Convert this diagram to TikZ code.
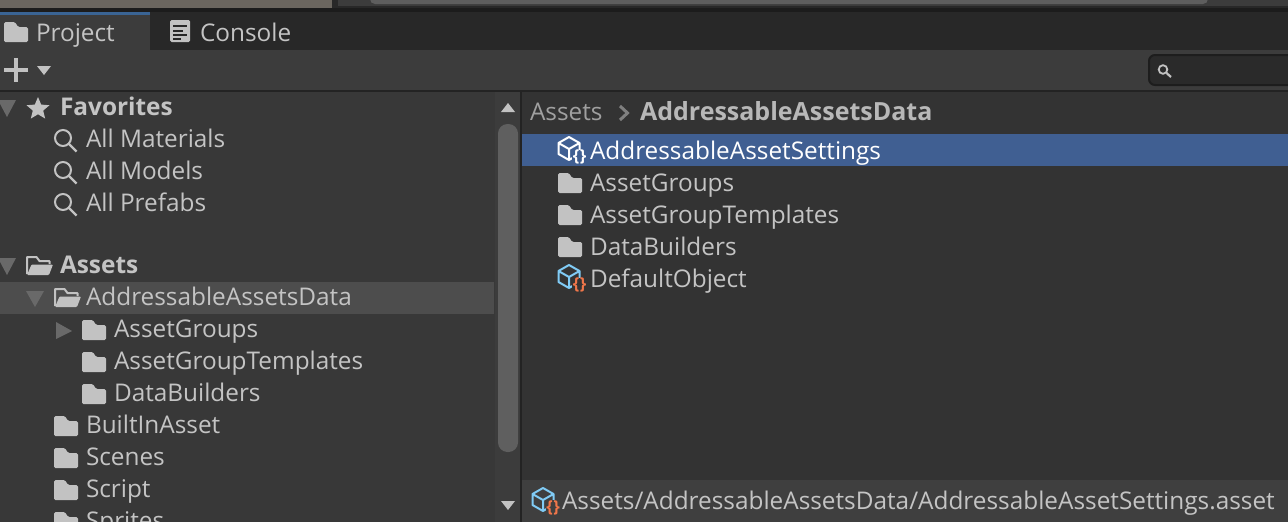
\documentclass[tikz,border=0pt]{standalone}
\usepackage{fontspec}
\setmainfont{Open Sans}
\definecolor{bgmain}{HTML}{383838}
\definecolor{bgright}{HTML}{333333}
\definecolor{bgbar}{HTML}{3C3C3C}
\definecolor{bgtabs}{HTML}{282828}
\definecolor{rule}{HTML}{232323}
\definecolor{ink}{HTML}{C4C4C4}
\definecolor{fold}{HTML}{C2C2C2}
\definecolor{tri}{HTML}{696969}
\definecolor{thumb}{HTML}{5F5F5F}
\definecolor{cubeblue}{HTML}{80CBF5}
\definecolor{brace}{HTML}{F0764A}
\definecolor{selblue}{HTML}{405F92}
\definecolor{topstrip}{HTML}{6B665F}
\definecolor{topgray}{HTML}{5E5E5E}
\definecolor{tabblue}{HTML}{3A6494}
\definecolor{rowgray}{HTML}{4D4D4D}
\definecolor{searchbg}{HTML}{2A2A2A}
\definecolor{searchedge}{HTML}{1D1D1D}
\definecolor{chev}{HTML}{808080}
\definecolor{crumb}{HTML}{A0A0A0}
\definecolor{crumbbold}{HTML}{B8B8B8}
\definecolor{pathbar}{HTML}{3F3F3F}
\tikzset{x=1pt,y=-1pt,
  lbl/.style={anchor=base west,inner sep=0pt,outer sep=0pt,text=ink,font=\fontsize{24.35}{28}\selectfont},
  boldlbl/.style={lbl,font=\fontsize{24.4}{28}\selectfont\bfseries},
  crumbboldlbl/.style={lbl,text=crumbbold,font=\fontsize{25}{28}\selectfont\bfseries},
  bracelbl/.style={anchor=center,inner sep=0pt,outer sep=0pt,font=\fontsize{16.5}{16}\selectfont\bfseries},
  foldericon/.pic={\fill[fold,rounded corners=1.5pt] (0,0) -- (11,0) -- (14,5) -- (24,5) -- (24,20) -- (0,20) -- cycle;},
  openfolder/.pic={
    \draw[fold,line width=2pt,line join=round] (1,19) -- (1,2) -- (10.5,2) -- (13.5,6) -- (23.5,6) -- (23.5,9);
    \fill[fold,rounded corners=1pt] (5.5,9.5) -- (27,9.5) -- (23,20) -- (1,20) -- cycle;},
  magnifier/.pic={\draw[fold,line width=2pt] (9,9) circle[radius=8];\draw[fold,line width=2.4pt] (14.8,14.8) -- (22.5,22.5);},
  cubeicon/.pic={
    \draw[pic actions,line width=2pt,line join=round] (11,0) -- (21.5,6) -- (21.5,17) -- (11,23) -- (0.5,17) -- (0.5,6) -- cycle
      (0.5,6) -- (11,12) -- (21.5,6) (11,12) -- (11,23);},
  scrolltri/.style={fill=fold}}
\newcommand{\braces}{\{\kern0.5pt\}}
\begin{document}
\begin{tikzpicture}
\useasboundingbox (0,0) rectangle (1288,522);
\clip (0,0) rectangle (1288,522);
% base regions
\fill[bgtabs] (0,0) rectangle (1288,50);
\fill[bgmain] (0,92) rectangle (495,522);
\fill[bgbar] (495,92) rectangle (520,522);
\fill[bgright] (522,92) rectangle (1288,522);
\fill[rule] (520,92) rectangle (522,522);
% top strip
\fill[topstrip] (0,0) rectangle (332,8);
\fill[bgbar] (338,0) rectangle (1288,6);
\fill[topgray,rounded corners=5pt] (370,-10) rectangle (1208,4);
\fill[bgtabs!70!black] (0,8) rectangle (1288,12);
% tabs and toolbar
\fill[bgbar] (0,50) rectangle (1288,90);
\fill[rule] (0,90) rectangle (1288,92);
\fill[bgbar] (0,15) rectangle (150,50);
\fill[tabblue] (0,12) rectangle (150,15);
\pic at (4,22) {foldericon};
\node[lbl] (project) at (36,41) {Project};
\fill[fold,rounded corners=1.5pt] (170,20) rectangle (190,42);
\draw[bgtabs,line width=2pt] (173,26) -- (187,26) (173,30.5) -- (183,30.5) (173,35) -- (187,35) (173,39) -- (181,39);
\node[lbl] (console) at (200,41) {Console};
\fill[fold] (14,58) rectangle (18,82);
\fill[fold] (4,68) rectangle (28,72);
\fill[fold] (37,66) -- (51,66) -- (44,75) -- cycle;
% search field
\draw[searchedge,fill=searchbg,line width=2pt,rounded corners=6pt] (1149,55) rectangle (1300,85);
\draw[fold,line width=1.8pt] (1163,69.5) circle[radius=4.3];
\draw[fold,line width=2.2pt] (1166.5,73) -- (1171,77);
% left tree
\fill[rowgray] (0,282) rectangle (494,314);
\fill[tri] (-2,100) -- (16,100) -- (7,117) -- cycle;
\fill[fold] (38,97) -- (41.2,104.6) -- (49.5,105.2) -- (43.2,110.6) -- (45.2,118.6) -- (38,114.3) -- (30.8,118.6) -- (32.8,110.6) -- (26.5,105.2) -- (34.8,104.6) -- cycle;
\node[boldlbl] (favorites) at (60,115) {Favorites};
\pic at (54,129) {magnifier};
\node[lbl] (allmat) at (86,147) {All Materials};
\pic at (54,161) {magnifier};
\node[lbl] (allmod) at (86,179) {All Models};
\pic at (54,193) {magnifier};
\node[lbl] (allpre) at (86,211) {All Prefabs};
\fill[tri] (-2,258) -- (16,258) -- (7,275) -- cycle;
\pic at (26,255) {openfolder};
\node[boldlbl] (assets) at (60,273) {Assets};
\fill[tri] (26,291) -- (44,291) -- (35,307) -- cycle;
\pic at (54,287) {openfolder};
\node[lbl] (aad) at (86,305) {AddressableAssetsData};
\fill[tri] (56,322) -- (72,331) -- (56,339) -- cycle;
\pic at (82,320) {foldericon};
\node[lbl] (ag) at (114,337) {AssetGroups};
\pic at (82,352) {foldericon};
\node[lbl] (agt) at (114,369) {AssetGroupTemplates};
\pic at (82,384) {foldericon};
\node[lbl] (db) at (114,401) {DataBuilders};
\pic at (54,416) {foldericon};
\node[lbl] (bia) at (86,433) {BuiltInAsset};
\pic at (54,448) {foldericon};
\node[lbl] (scenes) at (86,465) {Scenes};
\pic at (54,480) {foldericon};
\node[lbl] (script) at (86,497) {Script};
\pic at (54,512) {foldericon};
\node[lbl] (sprites) at (86,529) {Sprites};
% scrollbar
\fill[scrolltri] (501,112) -- (515,112) -- (508,103) -- cycle;
\fill[thumb,rounded corners=9.5pt] (498,124) rectangle (518,452);
\fill[scrolltri] (501,501) -- (515,501) -- (508,510) -- cycle;
% right panel
\node[lbl,text=crumb] (cr1) at (530,120) {Assets};
\draw[chev,line width=3pt] (620,106) -- (627.5,113) -- (620,120);
\node[crumbboldlbl] (cr2) at (640,120) {AddressableAssetsData};
\fill[selblue] (522,134) rectangle (1288,166);
\pic[draw=white] at (558,137) {cubeicon};
\fill[selblue] (572,150) rectangle (588,165);
\node[bracelbl,text=white] (b1) at (579.5,156.5) {\braces};
\node[lbl,text=white] (r1) at (590,159) {AddressableAssetSettings};
\pic at (558,173) {foldericon};
\node[lbl] (r2) at (590,191) {AssetGroups};
\pic at (558,205) {foldericon};
\node[lbl] (r3) at (590,223) {AssetGroupTemplates};
\pic at (558,237) {foldericon};
\node[lbl] (r4) at (590,255) {DataBuilders};
\pic[draw=cubeblue] at (558,265) {cubeicon};
\fill[bgright] (572,278) rectangle (588,293);
\node[bracelbl,text=brace] (b2) at (579.5,284.5) {\braces};
\node[lbl] (r5) at (590,287) {DefaultObject};
% path bar
\fill[pathbar] (522,480) rectangle (1288,522);
\pic[draw=cubeblue] at (532,488) {cubeicon};
\fill[pathbar] (546,500) rectangle (562,516);
\node[bracelbl,text=brace] (b3) at (553,507.5) {\braces};
\node[lbl] (path) at (562,509) {Assets/AddressableAssetsData/AddressableAssetSettings.asset};
\end{tikzpicture}
\end{document}
